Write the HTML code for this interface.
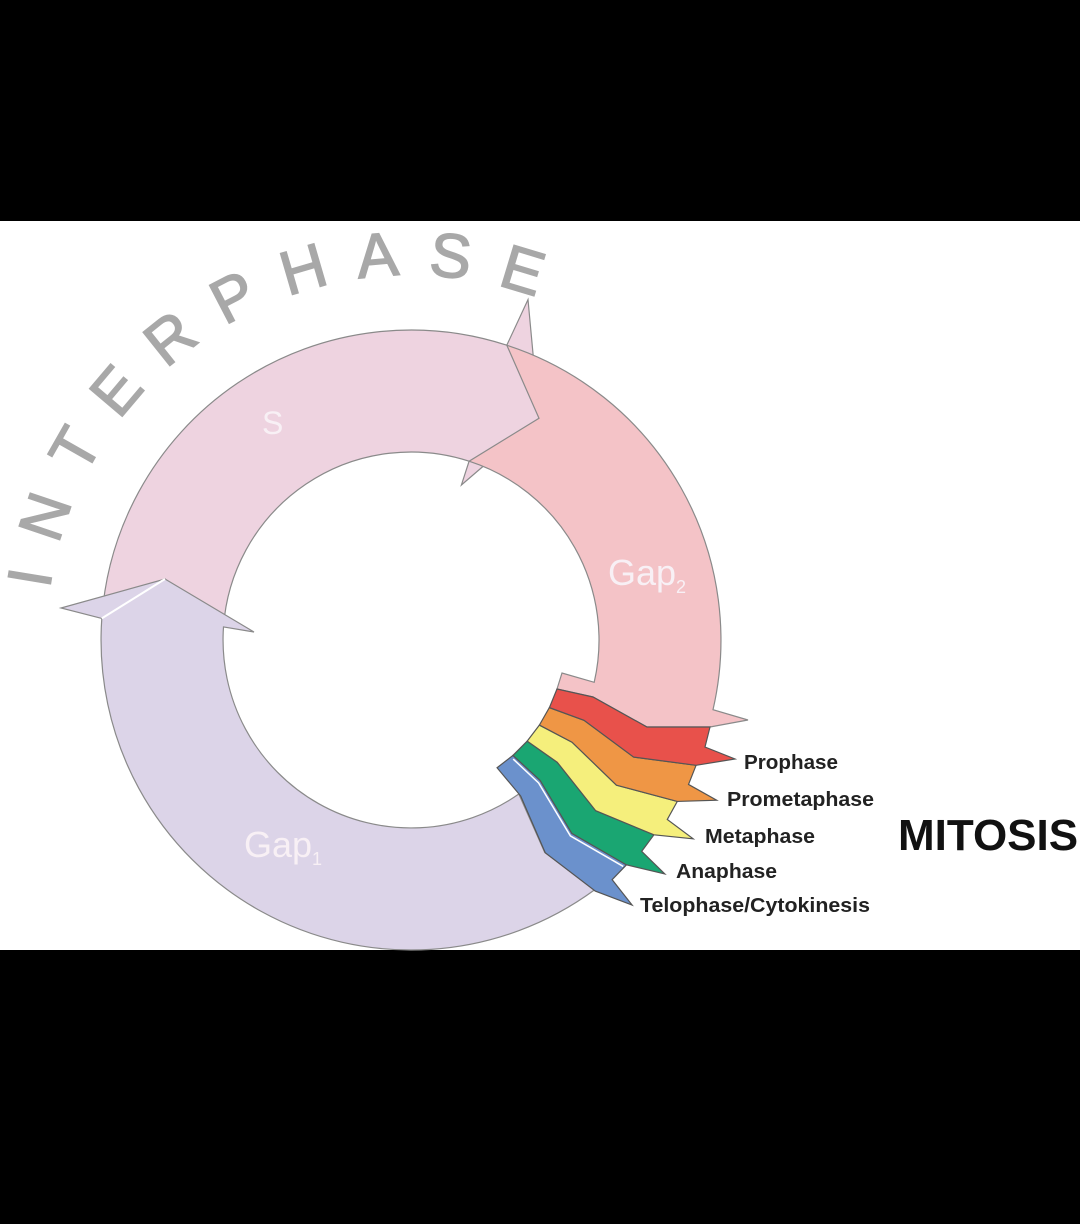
<!DOCTYPE html>
<html><head><meta charset="utf-8"><style>
html,body{margin:0;padding:0;background:#000;}
svg{display:block}
</style></head><body>
<svg width="1080" height="1224" viewBox="0 0 1080 1224" xmlns="http://www.w3.org/2000/svg">
<rect x="0" y="0" width="1080" height="1224" fill="#000"/>
<rect x="0" y="221" width="1080" height="729" fill="#fff"/>
<defs>
<path id="arc" d="M 49.6 589.2 A 365 365 0 0 1 547.7 301.6"/>
</defs>
<text font-family="Liberation Sans, sans-serif" font-size="62" fill="#a8a8a8" stroke="#a8a8a8" stroke-width="1.5"><textPath href="#arc" textLength="650" lengthAdjust="spacing">INTERPHASE</textPath></text>

<!-- S -->
<path d="M 101.8 618.4 A 310 310 0 0 1 506.8 345.2 L 528 299.6 L 539 418.3 L 461.4 485 L 469.1 461.2 A 188 188 0 0 0 223.5 626.9 L 165 579 Z" fill="#eed3e0" stroke="#8a8a8a" stroke-width="1.2"/>
<!-- Gap2 -->
<path d="M 506.8 345.2 A 310 310 0 0 1 713 709.7 L 748 720 L 710 727 L 647 727 L 593 697 L 557 689 L 562 673 L 594.2 682.3 A 188 188 0 0 0 469.1 461.2 L 539 418.3 Z" fill="#f4c3c7" stroke="#8a8a8a" stroke-width="1.2"/>
<!-- Gap1 -->
<path d="M 594.5 889.9 A 310 310 0 0 1 101.8 618.4 L 61 608 L 165 579 L 254 632 L 223.5 626.9 A 188 188 0 0 0 518.8 794 L 544.7 852.4 Z" fill="#dcd4e8" stroke="#8a8a8a" stroke-width="1.2"/>
<path d="M 101.8 618.4 L 165 579" stroke="#fff" stroke-width="2"/>

<!-- chevrons -->
<g stroke="#555" stroke-width="1.2" stroke-linejoin="miter">
<polygon transform="rotate(30 411 640)" fill="#6b91cc" points="557,689 593,697 647,727 710,727 705,747 735,759 696.1,765.3 633.6,757.1 584,720.3 549.4,707.6"/>
<polygon transform="rotate(22.5 411 640)" fill="#1aa672" points="557,689 593,697 647,727 710,727 705,747 735,759 696.1,765.3 633.6,757.1 584,720.3 549.4,707.6"/>
<polygon transform="rotate(15 411 640)" fill="#f5ef7c" points="557,689 593,697 647,727 710,727 705,747 735,759 696.1,765.3 633.6,757.1 584,720.3 549.4,707.6"/>
<polygon transform="rotate(7.5 411 640)" fill="#ef9645" points="557,689 593,697 647,727 710,727 705,747 735,759 696.1,765.3 633.6,757.1 584,720.3 549.4,707.6"/>
<polygon fill="#e8514b" points="557,689 593,697 647,727 710,727 705,747 735,759 696.1,765.3 633.6,757.1 584,720.3 549.4,707.6"/>
</g>
<g fill="none" stroke="#fff" stroke-width="1.5">
<polyline transform="rotate(30 411 640)" points="559,692 593,700 647,730 708,730"/>
</g>

<!-- segment labels -->
<g font-family="Liberation Sans, sans-serif" fill="#f8f0f5">
<text x="262" y="434" font-size="32">S</text>
<text x="608" y="585" font-size="36">Gap<tspan font-size="18" dy="8">2</tspan></text>
<text x="244" y="857" font-size="36">Gap<tspan font-size="18" dy="8">1</tspan></text>
</g>

<g font-family="Liberation Sans, sans-serif" font-weight="bold" fill="#222" font-size="20">
<text x="744" y="769" textLength="94" lengthAdjust="spacingAndGlyphs">Prophase</text>
<text x="727" y="806" textLength="147" lengthAdjust="spacingAndGlyphs">Prometaphase</text>
<text x="705" y="843" textLength="110" lengthAdjust="spacingAndGlyphs">Metaphase</text>
<text x="676" y="878" textLength="101" lengthAdjust="spacingAndGlyphs">Anaphase</text>
<text x="640" y="912" textLength="230" lengthAdjust="spacingAndGlyphs">Telophase/Cytokinesis</text>
</g>
<text x="898" y="850" font-family="Liberation Sans, sans-serif" font-weight="bold" font-size="44" fill="#111">MITOSIS</text>
</svg>
</body></html>
